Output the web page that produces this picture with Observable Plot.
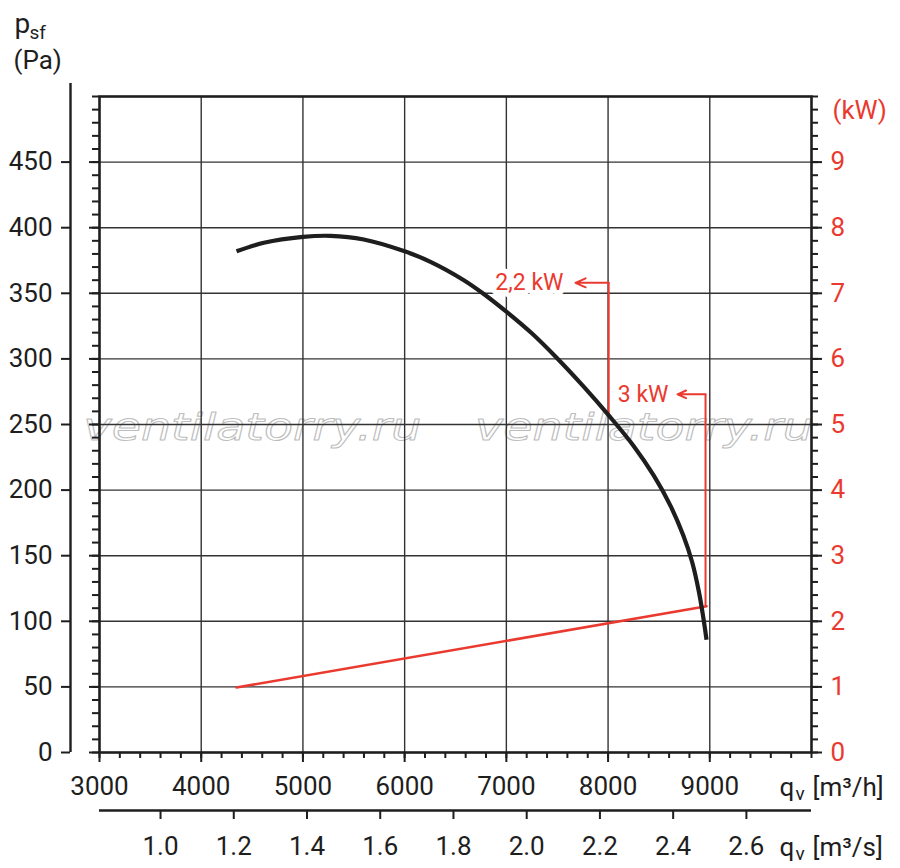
<!DOCTYPE html>
<html><head><meta charset="utf-8">
<script src="https://cdn.jsdelivr.net/npm/d3@7"></script>
<script src="https://cdn.jsdelivr.net/npm/@observablehq/plot@0.6"></script>
<style>body{margin:0;background:#fff}</style>
</head><body><div id="chart"></div>
<script>
// ---- data ----
const flowMajor = [3000, 4000, 5000, 6000, 7000, 8000, 9000];       // m3/h labels
const flowGrid = [4000, 5000, 6000, 7000, 8000, 9000];
const flowMinor = d3.range(3000, 10001, 200);
const pressureTicks = [0, 50, 100, 150, 200, 250, 300, 350, 400, 450]; // Pa
const pressureGrid = [50, 100, 150, 200, 250, 300, 350, 400, 450];
const pressureMinor = d3.range(0, 501, 10);
const powerTicks = [0, 1, 2, 3, 4, 5, 6, 7, 8, 9];                   // kW
const flowSecTicks = [1.0, 1.2, 1.4, 1.6, 1.8, 2.0, 2.2, 2.4, 2.6];   // m3/s
const PA_PER_KW = 50;
const M3H_PER_M3S = 3600;

// fan curve p_sf (Pa) vs q_v (m3/h)
const curveFlow = [4347, 4616, 5000, 5271, 5598, 6000, 6254, 6582, 6778, 7000, 7250, 7480, 7758, 8017, 8253, 8450, 8614, 8739, 8827, 8893, 8936, 8968];
const curvePa   = [382, 388.5, 393, 393.8, 391, 382, 374, 360, 349.5, 336, 319.5, 302, 279, 256, 233.5, 211, 188, 165.5, 145, 122.5, 103, 86];

// power line (kW) vs q_v
const powerFlow = [4347, 8968];
const powerKW   = [0.99, 2.23];

// annotations
const annoLabel   = ["2,2 kW", "3 kW"];
const annoFlow    = [8006, 8958];
const annoFromPa  = [255, 111];
const annoToPa    = [358, 273];
const annoTipFlow = [7680, 8683];
const annoTextEnd = [7562, 8594];

// watermark
const wmText = "ventilatorry.ru";
const wmFlow = [4504, 8353];
const wmPa = 238;

const RED = "#ea3a30";
const INK = "#1e1e1e";
const FONT = "Roboto, 'DejaVu Sans', sans-serif";

const curve = curveFlow.map((q, i) => ({q, p: curvePa[i]}));
const power = powerFlow.map((q, i) => ({q, kw: powerKW[i]}));
const anno = annoLabel.map((label, i) => ({label, q: annoFlow[i], p1: annoFromPa[i], p2: annoToPa[i], tip: annoTipFlow[i], tend: annoTextEnd[i]}));

const plot = Plot.plot({
  width: 900, height: 868,
  marginLeft: 99, marginRight: 89, marginTop: 96, marginBottom: 116,
  x: {domain: [3000, 10000]},
  y: {domain: [0, 500]},
  style: {fontFamily: FONT, fontSize: "26px", color: INK, background: "#fff", overflow: "visible"},
  marks: [
    // watermark
    Plot.text(wmFlow, {x: d => d, y: () => wmPa, text: () => wmText, lineAnchor: "bottom", textAnchor: "middle",
      fontFamily: "'DejaVu Sans', sans-serif", fontStyle: "italic", fontSize: 38, fill: "none", stroke: "#bdbdbd", strokeWidth: 1}),
    // grid
    Plot.ruleX(flowGrid, {stroke: "#333", strokeWidth: 1.4}),
    Plot.ruleY(pressureGrid, {stroke: "#333", strokeWidth: 1.4}),
    Plot.frame({stroke: INK, strokeWidth: 2.6}),
    // left frame ticks
    Plot.axisY(pressureMinor, {anchor: "left", tickSize: 7, fill: "none", strokeWidth: 2, label: null}),
    Plot.axisY(pressureTicks, {anchor: "left", tickSize: 10, fill: "none", strokeWidth: 2, label: null}),
    // separate left axis
    Plot.ruleX([3000], {dx: -29, y1: 0, y2: 510, stroke: INK, strokeWidth: 2.4}),
    Plot.axisY(pressureTicks, {anchor: "left", dx: -29, tickSize: 9, tickPadding: 9, strokeWidth: 2, label: null, fontSize: 26, fill: INK}),
    // right axis (kW)
    Plot.axisY(pressureMinor, {anchor: "right", tickSize: 6, fill: "none", strokeWidth: 2, label: null}),
    Plot.axisY(powerTicks.map(k => k * PA_PER_KW), {anchor: "right", tickSize: 10, tickPadding: 9, strokeWidth: 2, label: null,
      tickFormat: d => d / PA_PER_KW, fill: RED, fontSize: 26}),
    // bottom axis m3/h
    Plot.axisX(flowMinor, {anchor: "bottom", tickSize: 6, fill: "none", strokeWidth: 2, label: null}),
    Plot.axisX(flowMajor, {anchor: "bottom", tickSize: 10, tickPadding: 14, strokeWidth: 2, label: null,
      tickFormat: d3.format("d"), fontSize: 26, fill: INK}),
    // second bottom axis m3/s
    Plot.ruleY([0], {dy: 58, stroke: INK, strokeWidth: 2.4}),
    Plot.axisX(flowSecTicks.map(v => v * M3H_PER_M3S), {anchor: "bottom", dy: 58, tickSize: 9, tickPadding: 17, strokeWidth: 2, label: null,
      tickFormat: d => (d / M3H_PER_M3S).toFixed(1), fontSize: 26, fill: INK}),
    // power line
    Plot.line(power, {x: "q", y: d => d.kw * PA_PER_KW, stroke: RED, strokeWidth: 2.6}),
    // annotations
    Plot.ruleX(anno, {x: "q", y1: "p1", y2: "p2", stroke: RED, strokeWidth: 2}),
    Plot.arrow(anno, {x1: "q", y1: "p2", x2: "tip", y2: "p2", stroke: RED, strokeWidth: 2, headLength: 14, headAngle: 48}),
    Plot.text(anno, {x: "tend", y: "p2", text: "label", textAnchor: "end", lineAnchor: "middle", fill: RED, fontSize: 23,
      stroke: "white", strokeWidth: 10}),
    // fan curve
    Plot.line(curve, {x: "q", y: "p", curve: "catmull-rom", stroke: INK, strokeWidth: 4.2, strokeLinecap: "butt"}),
    // axis titles
    Plot.text(["p"], {frameAnchor: "top-left", dx: -85, dy: -64, lineAnchor: "bottom", textAnchor: "start", fontSize: 28, fill: INK}),
    Plot.text(["sf"], {frameAnchor: "top-left", dx: -70, dy: -58, lineAnchor: "bottom", textAnchor: "start", fontSize: 19, fill: INK}),
    Plot.text(["(Pa)"], {frameAnchor: "top-left", dx: -86, dy: -28, lineAnchor: "bottom", textAnchor: "start", fontSize: 26, fill: INK}),
    Plot.text(["(kW)"], {frameAnchor: "top-right", dx: 21, dy: 22, lineAnchor: "bottom", textAnchor: "start", fontSize: 26, fill: RED}),
    Plot.text(["q"], {frameAnchor: "bottom-right", dx: -32, dy: 43, lineAnchor: "bottom", textAnchor: "start", fontSize: 26, fill: INK}),
    Plot.text(["v"], {frameAnchor: "bottom-right", dx: -16, dy: 47, lineAnchor: "bottom", textAnchor: "start", fontSize: 19, fill: INK}),
    Plot.text(["[m³/h]"], {frameAnchor: "bottom-right", dx: 1, dy: 43, lineAnchor: "bottom", textAnchor: "start", fontSize: 26, fill: INK}),
    Plot.text(["q"], {frameAnchor: "bottom-right", dx: -32, dy: 103, lineAnchor: "bottom", textAnchor: "start", fontSize: 26, fill: INK}),
    Plot.text(["v"], {frameAnchor: "bottom-right", dx: -16, dy: 107, lineAnchor: "bottom", textAnchor: "start", fontSize: 19, fill: INK}),
    Plot.text(["[m³/s]"], {frameAnchor: "bottom-right", dx: 1, dy: 103, lineAnchor: "bottom", textAnchor: "start", fontSize: 26, fill: INK})
  ]
});
d3.select(plot).selectAll("text")
  .filter(function () { return this.textContent === wmText; })
  .attr("textLength", 338).attr("lengthAdjust", "spacingAndGlyphs");
document.getElementById("chart").appendChild(plot);
</script>
</body></html>
